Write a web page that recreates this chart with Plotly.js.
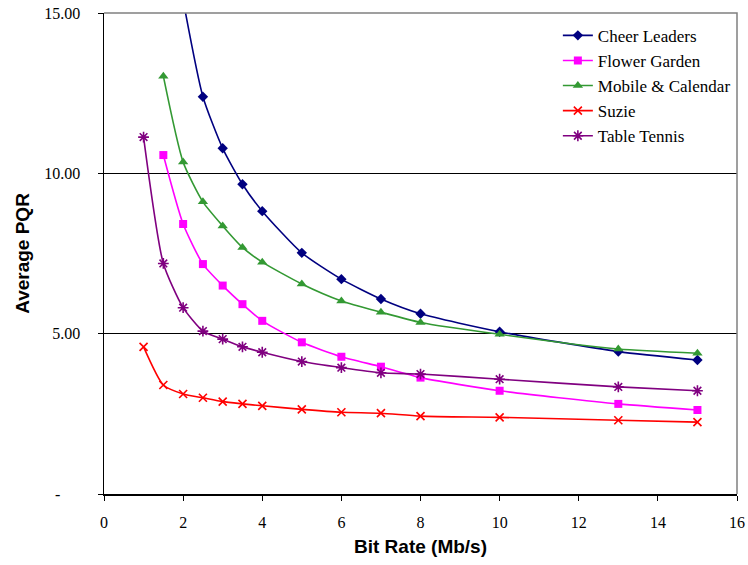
<!DOCTYPE html>
<html>
<head>
<meta charset="utf-8">
<script src="https://cdn.plot.ly/plotly-3.0.1.min.js"></script>
<style>html,body{margin:0;padding:0;background:#fff;}#chart{width:748px;height:565px;}</style>
</head>
<body>
<div id="chart"></div>
<script>
const seriesNames = ["Cheer Leaders", "Flower Garden", "Mobile & Calendar", "Suzie", "Table Tennis"];

const cheerX = [2, 2.5, 3, 3.5, 4, 5, 6, 7, 8, 10, 13, 15];
const cheerY = [15.4, 12.39, 10.78, 9.66, 8.82, 7.52, 6.70, 6.08, 5.62, 5.06, 4.44, 4.18];

const flowerX = [1.5, 2, 2.5, 3, 3.5, 4, 5, 6, 7, 8, 10, 13, 15];
const flowerY = [10.57, 8.42, 7.17, 6.50, 5.92, 5.40, 4.73, 4.28, 3.97, 3.63, 3.22, 2.81, 2.62];

const mobileX = [1.5, 2, 2.5, 3, 3.5, 4, 5, 6, 7, 8, 10, 13, 15];
const mobileY = [13.03, 10.35, 9.11, 8.36, 7.69, 7.23, 6.55, 6.02, 5.67, 5.35, 4.98, 4.52, 4.39];

const suzieX = [1, 1.5, 2, 2.5, 3, 3.5, 4, 5, 6, 7, 8, 10, 13, 15];
const suzieY = [4.59, 3.40, 3.12, 3.00, 2.88, 2.81, 2.75, 2.64, 2.55, 2.52, 2.43, 2.39, 2.30, 2.24];

const tennisX = [1, 1.5, 2, 2.5, 3, 3.5, 4, 5, 6, 7, 8, 10, 13, 15];
const tennisY = [11.13, 7.19, 5.81, 5.08, 4.83, 4.59, 4.42, 4.13, 3.94, 3.78, 3.74, 3.58, 3.34, 3.22];

const yTickVals = [0, 5, 10, 15];
const yTickText = ["-\u00a0\u00a0\u00a0\u00a0\u00a0", "5.00", "10.00", "15.00"];
const xTickVals = [0, 2, 4, 6, 8, 10, 12, 14, 16];

const colors = ["#000080", "#FF00FF", "#339933", "#FF0000", "#800080"];
const symbols = ["diamond", "square", "triangle-up", "x-thin-open", "asterisk-open"];
const sizes = [8, 8, 9, 8, 9];
const xs = [cheerX, flowerX, mobileX, suzieX, tennisX];
const ys = [cheerY, flowerY, mobileY, suzieY, tennisY];

const SERIF = "Times New Roman, Liberation Serif, Times, DejaVu Serif, serif";
const SANS = "Arial, Liberation Sans, sans-serif";

const traces = seriesNames.map((name, i) => ({
  type: "scatter",
  mode: "lines+markers",
  name: name,
  legendgroup: "g" + i,
  x: xs[i],
  y: ys[i],
  line: {color: colors[i], width: 1.6, shape: "spline", smoothing: 0.6},
  marker: {symbol: symbols[i], size: sizes[i], color: colors[i],
           line: {color: colors[i], width: (i >= 3 ? 1.6 : 0)}},
  cliponaxis: true
}));

const layout = {
  width: 748, height: 565,
  margin: {l: 104, r: 11, t: 13, b: 71},
  paper_bgcolor: "#ffffff",
  plot_bgcolor: "#ffffff",
  font: {family: SERIF, size: 16, color: "#000"},
  showlegend: true,
  legend: {
    x: 0.717, y: 0.99, xanchor: "left", yanchor: "top",
    font: {family: SERIF, size: 17, color: "#000"},
    bgcolor: "rgba(255,255,255,0)", borderwidth: 0,
    tracegroupgap: 0
  },
  xaxis: {
    range: [0, 16], tickvals: xTickVals, ticktext: xTickVals.map(String),
    showgrid: false, zeroline: false,
    showline: true, linecolor: "#000", linewidth: 1.5,
    ticks: "outside", ticklen: 5, tickwidth: 1, tickcolor: "#000",
    ticklabelstandoff: 8,
    tickfont: {family: SERIF, size: 16, color: "#000"},
    title: {text: "Bit Rate (Mb/s)", standoff: 10,
            font: {family: SANS, size: 19, color: "#000", weight: "bold"}}
  },
  yaxis: {
    range: [0, 15], tickvals: yTickVals, ticktext: yTickText,
    showgrid: true, gridcolor: "#000", gridwidth: 1.2, zeroline: false,
    showline: true, linecolor: "#000", linewidth: 1.5,
    ticks: "outside", ticklen: 5, tickwidth: 1, tickcolor: "#000",
    ticklabelstandoff: 14,
    tickfont: {family: SERIF, size: 16, color: "#000"},
    title: {text: "Average PQR", standoff: 9,
            font: {family: SANS, size: 19, color: "#000", weight: "bold"}}
  },
  shapes: [{
    type: "path", xref: "paper", yref: "paper",
    path: "M 0 1 L 1 1 L 1 0",
    line: {color: "#808080", width: 1.5}, layer: "above"
  }]
};

Plotly.newPlot("chart", traces, layout, {displayModeBar: false, staticPlot: true});
</script>
</body>
</html>
